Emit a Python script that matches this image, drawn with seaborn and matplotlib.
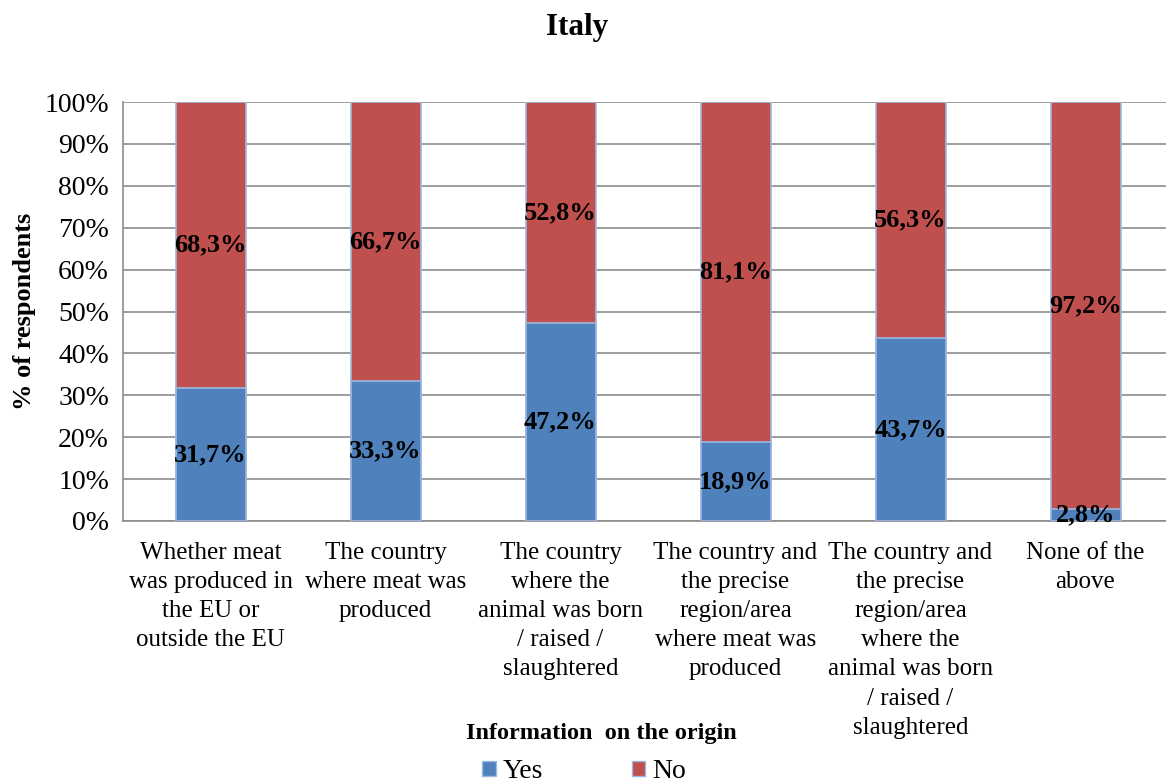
import matplotlib
matplotlib.use("Agg")
import matplotlib.pyplot as plt
import seaborn as sns
import pandas as pd
import numpy as np
from matplotlib.patches import Patch

categories = [
    "Whether meat\nwas produced in\nthe EU or\noutside the EU",
    "The country\nwhere meat was\nproduced",
    "The country\nwhere the\nanimal was born\n/ raised /\nslaughtered",
    "The country and\nthe precise\nregion/area\nwhere meat was\nproduced",
    "The country and\nthe precise\nregion/area\nwhere the\nanimal was born\n/ raised /\nslaughtered",
    "None of the\nabove",
]
yes_values = [31.7, 33.3, 47.2, 18.9, 43.7, 2.8]
no_values = [68.3, 66.7, 52.8, 81.1, 56.3, 97.2]
yticks = [0, 10, 20, 30, 40, 50, 60, 70, 80, 90, 100]

yes_color = "#4F81BD"
no_color = "#C0504D"
edge_color = "#9DB9E0"
grid_color = "#8C8C8C"

sns.set_theme(style="white")
plt.rcParams["font.family"] = ["Liberation Serif", "DejaVu Serif"]
plt.rcParams["text.color"] = "black"
plt.rcParams["axes.labelcolor"] = "black"
plt.rcParams["xtick.color"] = "black"
plt.rcParams["ytick.color"] = "black"

df = pd.DataFrame({"cat": categories, "yes": yes_values, "no": no_values})
df["total"] = df["yes"] + df["no"]

fig = plt.figure(figsize=(11.66, 7.83), dpi=100)
ax = fig.add_axes([123 / 1166, 1 - 521 / 783, 1 - 123 / 1166, (521 - 102) / 783])

sns.barplot(data=df, x="cat", y="total", color=no_color, width=0.4, saturation=1,
            edgecolor=edge_color, linewidth=1.2, ax=ax, zorder=2)
sns.barplot(data=df, x="cat", y="yes", color=yes_color, width=0.4, saturation=1,
            edgecolor=edge_color, linewidth=1.2, ax=ax, zorder=3)

for i, (y, n) in enumerate(zip(yes_values, no_values)):
    ax.text(i, y / 2, f"{y:.1f}%".replace(".", ","), ha="center", va="center",
            fontsize=19, fontweight="bold", color="black", zorder=5)
    ax.text(i, y + n / 2, f"{n:.1f}%".replace(".", ","), ha="center", va="center",
            fontsize=19, fontweight="bold", color="black", zorder=5)

ax.set_ylim(0, 100)
ax.set_xlim(-0.5, 5.5 - 7 / 175)
ax.set_yticks(yticks)
ax.set_yticklabels([f"{t}%" for t in yticks], fontsize=20)
ax.yaxis.grid(True, color=grid_color, linewidth=1.2, zorder=0)
ax.set_axisbelow(True)

ax.set_xticks(range(len(categories)))
ax.set_xticklabels(categories, fontsize=18, linespacing=1.42, va="top")
ax.tick_params(axis="x", length=0, pad=15)
ax.set_xticks(np.arange(-0.5, 5.5, 1.0), minor=True)
ax.tick_params(axis="x", which="minor", length=6, color=grid_color, width=1.2, direction="out")
ax.tick_params(axis="y", length=6, color=grid_color, width=1.2, direction="out", pad=4)

for s in ["top", "right"]:
    ax.spines[s].set_visible(False)
for s in ["left", "bottom"]:
    ax.spines[s].set_color(grid_color)
    ax.spines[s].set_linewidth(1.2)

ax.set_ylabel("% of respondents", fontsize=19, fontweight="bold", labelpad=6)
ax.set_xlabel("")

fig.text(577 / 1166, 1 - 28 / 783, "Italy", ha="center", va="center",
         fontsize=22.5, fontweight="bold")
fig.text(601 / 1166, 1 - 733 / 783, "Information  on the origin", ha="center", va="center",
         fontsize=17.5, fontweight="bold")

handles = [Patch(facecolor=yes_color, edgecolor=edge_color),
           Patch(facecolor=no_color, edgecolor=edge_color)]
fig.legend(handles, ["Yes", "No"], loc="center", bbox_to_anchor=(584 / 1166, 1 - 772 / 783),
           ncol=2, frameon=False, fontsize=20, handlelength=0.47, handleheight=0.47,
           handletextpad=0.25, columnspacing=3.2)

fig.savefig("out.png", dpi=100)
